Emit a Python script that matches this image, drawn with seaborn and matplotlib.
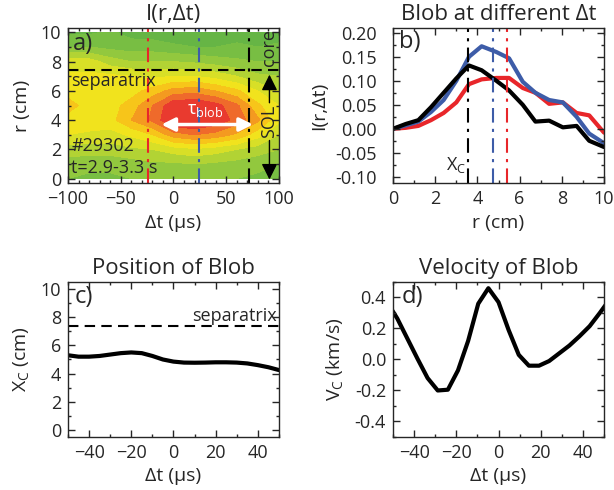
import numpy as np
import pandas as pd
import seaborn as sns
import matplotlib.pyplot as plt
from matplotlib.ticker import MultipleLocator

# ---- panel a: I(r, dt) map (rows = r, columns = dt)
dt_map = [-100, -80, -60, -40, -20, 0, 20, 40, 60, 80, 100]
r_map = [0, 1, 2, 3, 4, 5, 6, 7, 8, 9, 10]
I_map = [
    [0.30, 0.28, 0.28, 0.30, 0.30, 0.30, 0.32, 0.30, 0.30, 0.28, 0.25],
    [0.35, 0.33, 0.33, 0.35, 0.38, 0.38, 0.40, 0.38, 0.36, 0.33, 0.30],
    [0.45, 0.45, 0.45, 0.48, 0.50, 0.55, 0.58, 0.55, 0.50, 0.45, 0.40],
    [0.60, 0.58, 0.56, 0.62, 0.70, 0.85, 0.90, 0.86, 0.78, 0.64, 0.50],
    [0.68, 0.66, 0.66, 0.80, 0.92, 1.12, 1.14, 1.08, 0.96, 0.82, 0.62],
    [0.72, 0.68, 0.66, 0.74, 0.90, 1.08, 1.10, 1.04, 0.92, 0.72, 0.60],
    [0.68, 0.65, 0.63, 0.66, 0.74, 0.84, 0.86, 0.80, 0.72, 0.60, 0.50],
    [0.62, 0.62, 0.62, 0.60, 0.58, 0.60, 0.60, 0.56, 0.50, 0.42, 0.40],
    [0.55, 0.55, 0.45, 0.40, 0.40, 0.40, 0.38, 0.35, 0.32, 0.30, 0.30],
    [0.30, 0.30, 0.27, 0.25, 0.25, 0.22, 0.20, 0.20, 0.22, 0.20, 0.22],
    [0.18, 0.18, 0.22, 0.16, 0.15, 0.13, 0.13, 0.15, 0.15, 0.13, 0.15],
]
map_levels = [0.0, 0.1, 0.2, 0.3, 0.4, 0.5, 0.6, 0.7, 0.8, 0.9, 1.0, 1.3]
map_colors = ["#5aae47", "#66b545", "#78be43", "#92c83e", "#b2d334", "#d8df27",
              "#f1e31d", "#f7c51a", "#f49a20", "#ef6a2b", "#e93a2f"]
dt_marks = [-24, 24, 72]          # red, blue, black
separatrix = 7.4

# ---- panel b: radial profiles
r_prof = [0, 0.6, 1.2, 1.8, 2.4, 3.0, 3.6, 4.2, 4.9, 5.5, 6.15, 6.75, 7.4, 8.05, 8.7, 9.3, 10.0]
I_black = [0, 0.010, 0.018, 0.045, 0.075, 0.105, 0.132, 0.122, 0.100, 0.080, 0.050,
           0.015, 0.017, 0.003, 0.006, -0.025, -0.038]
I_blue = [0, 0.007, 0.015, 0.035, 0.060, 0.100, 0.150, 0.172, 0.160, 0.147, 0.098,
          0.075, 0.060, 0.055, 0.025, -0.010, -0.030]
I_red = [0, 0.002, 0.006, 0.018, 0.033, 0.055, 0.093, 0.103, 0.106, 0.106, 0.085,
         0.075, 0.052, 0.055, 0.033, 0.028, -0.008]
xc_marks = [3.57, 4.75, 5.4]      # black, blue, red

# ---- panel c: blob position
dt_pos = [-50, -45, -40, -35, -30, -25, -20, -15, -10, -5, 0, 5, 10, 15, 20, 25, 30, 35, 40, 45, 50]
xc_pos = [5.3, 5.2, 5.2, 5.25, 5.35, 5.45, 5.5, 5.45, 5.25, 5.0, 4.85, 4.78, 4.77, 4.78,
          4.8, 4.8, 4.78, 4.72, 4.6, 4.45, 4.25]

# ---- panel d: blob velocity
dt_vel = [-52.8, -48, -43.2, -38.4, -33.6, -28.8, -24, -19.2, -14.4, -9.6, -4.8, 0,
          4.8, 9.6, 14.4, 19.2, 24, 28.8, 33.6, 38.4, 43.2, 48, 52.8]
vc_vel = [0.37, 0.265, 0.135, 0.005, -0.12, -0.20, -0.195, -0.07, 0.12, 0.36, 0.46, 0.37,
          0.19, 0.03, -0.04, -0.04, -0.01, 0.04, 0.09, 0.15, 0.215, 0.30, 0.39]

RED = "#e8262a"
BLUE = "#3d5ca8"

sns.set_style("ticks")
plt.rcParams['font.family'] = ['Open Sans', 'DejaVu Sans']
plt.rcParams['mathtext.fontset'] = 'custom'
plt.rcParams['mathtext.rm'] = 'Open Sans'
plt.rcParams['mathtext.it'] = 'Open Sans'
plt.rcParams['xtick.direction'] = 'in'
plt.rcParams['ytick.direction'] = 'in'
plt.rcParams['xtick.top'] = True
plt.rcParams['ytick.right'] = True
plt.rcParams['font.size'] = 13
plt.rcParams['axes.linewidth'] = 1.0

fig = plt.figure(figsize=(6.14, 4.9), dpi=100)
W, H = 0.3436, 0.3163
ax_a = fig.add_axes([0.1107, 0.6265, W, H])
ax_b = fig.add_axes([0.6401, 0.6265, W, H])
ax_c = fig.add_axes([0.1107, 0.1082, W, H])
ax_d = fig.add_axes([0.6401, 0.1082, W, H])

dash_dot = (0, (7, 3, 1.5, 3))
title_kw = dict(fontsize=16, pad=6)
label_size = 14
note_size = 13
letter_size = 17

# (a) contour map
ax_a.contourf(dt_map, r_map, np.array(I_map), levels=map_levels, colors=map_colors)
ax_a.axhline(separatrix, color='k', lw=1.5, ls=(0, (5, 3)))
for x, c in zip(dt_marks, [RED, BLUE, 'k']):
    ax_a.axvline(x, color=c, lw=1.5, ls=dash_dot)
ax_a.annotate('', xy=(-14, 3.7), xytext=(78, 3.7),
              arrowprops=dict(arrowstyle='<|-|>', color='white', lw=2.5, mutation_scale=20))
ax_a.text(30, 4.7, r'τ$_\mathrm{blob}$', color='white', fontsize=13, ha='center', va='center')
ax_a.annotate('', xy=(91, 7.3), xytext=(91, 5.0),
              arrowprops=dict(arrowstyle='-|>', color='k', lw=1, mutation_scale=24))
ax_a.annotate('', xy=(91, -0.25), xytext=(91, 2.8),
              arrowprops=dict(arrowstyle='-|>', color='k', lw=1, mutation_scale=24))
ax_a.text(91, 3.9, 'SOL', rotation=90, ha='center', va='center', fontsize=note_size)
ax_a.text(91, 9.0, 'core', rotation=90, ha='center', va='center', fontsize=note_size)
ax_a.text(-97, 6.7, 'separatrix', fontsize=note_size, ha='left', va='center')
ax_a.text(-97, 2.2, '#29302', fontsize=note_size, ha='left', va='center')
ax_a.text(-97, 0.7, 't=2.9-3.3 s', fontsize=note_size, ha='left', va='center')
ax_a.text(-95, 9.2, 'a)', fontsize=letter_size, ha='left', va='center')
ax_a.set_xlim(-100, 100)
ax_a.set_ylim(-0.3, 10.3)
ax_a.xaxis.set_major_locator(MultipleLocator(50))
ax_a.xaxis.set_minor_locator(MultipleLocator(10))
ax_a.yaxis.set_major_locator(MultipleLocator(2))
ax_a.yaxis.set_minor_locator(MultipleLocator(1))
ax_a.set_title('I(r,Δt)', **title_kw)
ax_a.set_xlabel('Δt (μs)', fontsize=label_size)
ax_a.set_ylabel('r (cm)', fontsize=label_size, labelpad=7)

# (b) profiles
prof = pd.DataFrame({'r': r_prof * 3,
                     'I': I_black + I_blue + I_red,
                     'which': ['black'] * len(r_prof) + ['blue'] * len(r_prof) + ['red'] * len(r_prof)})
sns.lineplot(data=prof, x='r', y='I', hue='which', palette={'black': 'k', 'blue': BLUE, 'red': RED},
             hue_order=['red', 'blue', 'black'], lw=3, legend=False, ax=ax_b)
for x, c in zip(xc_marks, ['k', BLUE, RED]):
    ax_b.axvline(x, color=c, lw=1.5, ls=dash_dot)
ax_b.text(2.5, -0.075, r'X$_\mathrm{C}$', fontsize=note_size, ha='left', va='center')
ax_b.text(0.3, 0.18, 'b)', fontsize=letter_size, ha='left', va='center')
ax_b.set_xlim(0, 10)
ax_b.set_ylim(-0.113, 0.21)
ax_b.xaxis.set_major_locator(MultipleLocator(2))
ax_b.xaxis.set_minor_locator(MultipleLocator(1))
ax_b.yaxis.set_major_locator(MultipleLocator(0.05))
ax_b.yaxis.set_minor_locator(MultipleLocator(0.025))
ax_b.yaxis.set_major_formatter(plt.FormatStrFormatter('%.2f'))
ax_b.set_title('Blob at different Δt', **title_kw)
ax_b.set_xlabel('r (cm)', fontsize=label_size)
ax_b.set_ylabel('I(r,Δt)', fontsize=label_size, labelpad=5)

# (c) position
sns.lineplot(x=dt_pos, y=xc_pos, color='k', lw=3, ax=ax_c)
ax_c.axhline(separatrix, color='k', lw=1.5, ls=(0, (5, 3)))
ax_c.text(49, 8.1, 'separatrix', fontsize=note_size, ha='right', va='center')
ax_c.text(-47, 9.4, 'c)', fontsize=letter_size, ha='left', va='center')
ax_c.set_xlim(-50, 50)
ax_c.set_ylim(-0.5, 10.5)
ax_c.xaxis.set_major_locator(MultipleLocator(20))
ax_c.xaxis.set_minor_locator(MultipleLocator(10))
ax_c.yaxis.set_major_locator(MultipleLocator(2))
ax_c.yaxis.set_minor_locator(MultipleLocator(1))
ax_c.set_title('Position of Blob', **title_kw)
ax_c.set_xlabel('Δt (μs)', fontsize=label_size)
ax_c.set_ylabel(r'X$_\mathrm{C}$ (cm)', fontsize=label_size, labelpad=7)

# (d) velocity
sns.lineplot(x=dt_vel, y=vc_vel, color='k', lw=3, ax=ax_d)
ax_d.text(-46, 0.40, 'd)', fontsize=letter_size, ha='left', va='center')
ax_d.set_xlim(-50, 50)
ax_d.set_ylim(-0.5, 0.5)
ax_d.xaxis.set_major_locator(MultipleLocator(20))
ax_d.xaxis.set_minor_locator(MultipleLocator(10))
ax_d.yaxis.set_major_locator(MultipleLocator(0.2))
ax_d.yaxis.set_minor_locator(MultipleLocator(0.1))
ax_d.yaxis.set_major_formatter(plt.FormatStrFormatter('%.1f'))
ax_d.set_title('Velocity of Blob', **title_kw)
ax_d.set_xlabel('Δt (μs)', fontsize=label_size)
ax_d.set_ylabel(r'V$_\mathrm{C}$ (km/s)', fontsize=label_size, labelpad=7)

for ax in (ax_a, ax_b, ax_c, ax_d):
    ax.tick_params(which='major', length=5, width=1, labelsize=13, pad=5)
    ax.tick_params(which='minor', length=2.5, width=1)
    ax.set_axisbelow(False)
ax_b.tick_params(axis='y', which='major', pad=12)

fig.savefig('out.png', dpi=100)
